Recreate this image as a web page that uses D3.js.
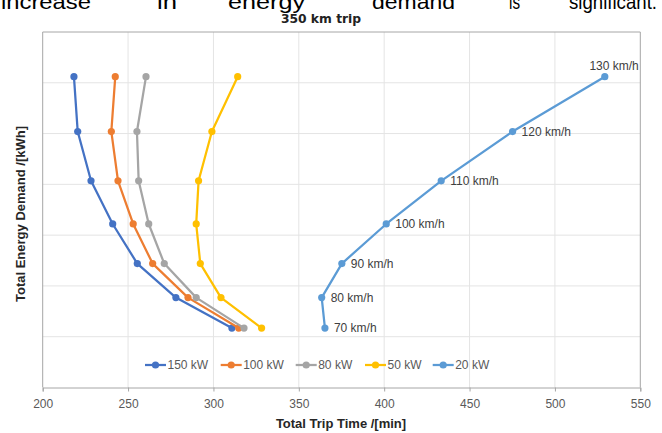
<!DOCTYPE html>
<html><head><meta charset="utf-8">
<script src="https://cdn.jsdelivr.net/npm/d3@7"></script>
<style>
html,body{margin:0;padding:0;background:#fff;overflow:hidden;}
svg{display:block;font-family:"Liberation Sans",Arial,sans-serif;}
</style></head>
<body>
<svg id="c" width="662" height="433"></svg>
<script>
// ---- data ----
const speeds = ["70 km/h","80 km/h","90 km/h","100 km/h","110 km/h","120 km/h","130 km/h"];
const energy = [31.7, 37.7, 44.4, 52.2, 60.7, 70.4, 81.2];
const seriesNames = ["150 kW","100 kW","80 kW","50 kW","20 kW"];
const time150 = [310.8, 278.0, 255.4, 241.0, 228.3, 220.5, 218.3];
const time100 = [314.8, 285.1, 264.4, 253.0, 244.1, 240.2, 242.5];
const time80  = [317.9, 289.9, 271.2, 262.1, 256.2, 255.2, 260.5];
const time50  = [328.2, 304.4, 292.3, 289.9, 291.3, 299.1, 314.2];
const time20  = [365.3, 363.4, 375.2, 401.2, 433.4, 475.2, 529.2];
const xTicks = [200,250,300,350,400,450,500,550];
const yTicks = [20,30,40,50,60,70,80,90];
const colors = ["#4472C4","#ED7D31","#A5A5A5","#FFC000","#5B9BD5"];
const headerWords = ["increase","in","energy","demand","is","significant."];

const series = [time150,time100,time80,time50,time20].map((t,i)=>({
  name: seriesNames[i], color: colors[i],
  pts: t.map((x,j)=>({x:x, y:energy[j], label:speeds[j]}))
}));

const svg = d3.select("#c");
const L=42.7, R=640.3, T=32, B=387.5;
const x = d3.scaleLinear().domain([200,550]).range([L,R]);
const y = d3.scaleLinear().domain([20,90]).range([B,T]);

// header text (cut off document text at top of page)
const hx = [1,157,228,372,509,569];
const hw = [90,20,77,83,11,88];
svg.append("g").selectAll("text").data(headerWords).join("text")
  .attr("x",(d,i)=>hx[i]).attr("y",9)
  .attr("textLength",(d,i)=>hw[i]).attr("lengthAdjust","spacingAndGlyphs")
  .attr("font-size",21).attr("fill","#000").text(d=>d);

// title
svg.append("text").attr("x",321).attr("y",23).attr("text-anchor","middle")
  .attr("font-family","'DejaVu Sans',sans-serif").attr("font-weight","bold")
  .attr("font-size",12.3).attr("fill","#222").text("350 km trip");

// gridlines
svg.append("g").selectAll("line").data(xTicks.slice(1,-1)).join("line")
  .attr("x1",d=>x(d)).attr("x2",d=>x(d)).attr("y1",T).attr("y2",B)
  .attr("stroke","#e4e4e4").attr("stroke-width",1);
svg.append("g").selectAll("line").data(yTicks.slice(1,-1)).join("line")
  .attr("x1",L).attr("x2",R).attr("y1",d=>y(d)).attr("y2",d=>y(d))
  .attr("stroke","#e4e4e4").attr("stroke-width",1);

// border
svg.append("path").attr("d",`M${L},${B}V${T}H${R}V${B}`)
  .attr("fill","none").attr("stroke","#a6a6a6").attr("stroke-width",1);

// x axis
const xa = svg.append("g").attr("transform",`translate(0,${B})`)
  .call(d3.axisBottom(x).tickValues(xTicks).tickSize(4).tickPadding(8));
xa.select(".domain").attr("stroke","#a6a6a6");
xa.selectAll(".tick line").attr("stroke","#a6a6a6");
xa.selectAll("text").attr("font-size",12).attr("fill","#595959")
  .attr("font-family","'Liberation Sans',Arial,sans-serif");

// axis titles
svg.append("text").attr("x",341).attr("y",428).attr("text-anchor","middle")
  .attr("font-weight","bold").attr("font-size",13).attr("fill","#262626")
  .text("Total Trip Time /[min]");
svg.append("text").attr("transform","translate(25,214) rotate(-90)")
  .attr("text-anchor","middle").attr("font-weight","bold").attr("font-size",13)
  .attr("fill","#262626").text("Total Energy Demand /[kWh]");

// lines
const line = d3.line().x(d=>x(d.x)).y(d=>y(d.y));
const g = svg.append("g");
series.forEach(s=>{
  g.append("path").datum(s.pts).attr("d",line).attr("fill","none")
    .attr("stroke",s.color).attr("stroke-width",2.25).attr("stroke-linejoin","round");
  g.selectAll(null).data(s.pts).join("circle")
    .attr("cx",d=>x(d.x)).attr("cy",d=>y(d.y)).attr("r",3.6).attr("fill",s.color);
});

// data labels for 20 kW
const s20 = series[4];
svg.append("g").selectAll("text").data(s20.pts).join("text")
  .attr("x",(d,i)=> i===s20.pts.length-1 ? x(d.x)+34 : x(d.x)+9)
  .attr("y",(d,i)=> i===s20.pts.length-1 ? y(d.y)-7 : y(d.y)+4)
  .attr("text-anchor",(d,i)=> i===s20.pts.length-1 ? "end" : "start")
  .attr("font-size",12).attr("fill","#404040").text(d=>d.label);

// legend
const legX = [145,220.7,295.7,365,432.7];
const lg = svg.append("g").attr("transform","translate(0,365)");
series.forEach((s,i)=>{
  const gi = lg.append("g").attr("transform",`translate(${legX[i]},0)`);
  gi.append("line").attr("x1",0).attr("x2",21).attr("stroke",s.color).attr("stroke-width",2.25);
  gi.append("circle").attr("cx",10.5).attr("r",3.6).attr("fill",s.color);
  gi.append("text").attr("x",22.5).attr("y",4.3).attr("font-size",12)
    .attr("fill","#595959").text(s.name);
});
</script>
</body></html>
